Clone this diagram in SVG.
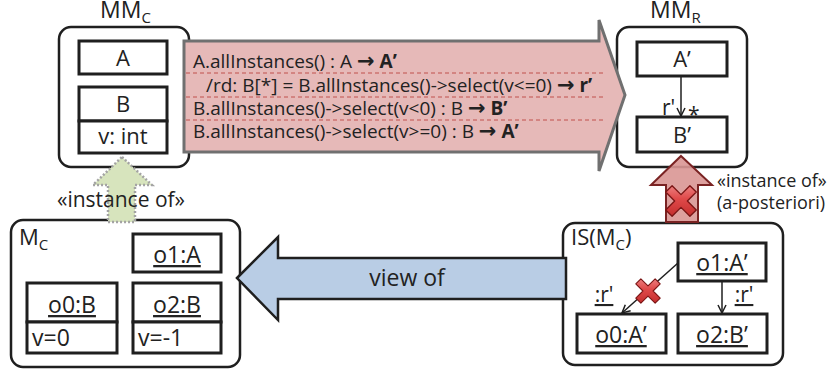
<svg xmlns="http://www.w3.org/2000/svg" width="832" height="372" viewBox="0 0 832 372">
  <defs>
    <style>
      text { font-family: "Open Sans", "Liberation Sans", sans-serif; fill: #222; }
      .frame { fill: #fff; stroke: #1f1f1f; stroke-width: 2.5; }
      .cls { fill: #fff; stroke: #1f1f1f; stroke-width: 3; }
      .title { font-size: 23px; }
      .title2 { font-size: 22px; }
      .sub { font-size: 15px; }
      .lbl { font-size: 22px; text-anchor: middle; }
      .obj { font-size: 23px; text-anchor: middle; text-decoration: underline; }
      .attr { font-size: 23px; }
      .map { font-size: 19px; }
      .note { font-size: 18px; }
      .b { font-weight: bold; }
      .to { font-family: "DejaVu Sans", sans-serif; font-weight: bold; font-size: 21px; }
      .sep { stroke: #c0504d; stroke-width: 1; stroke-dasharray: 4 3; }
      .link { stroke: #1f1f1f; stroke-width: 1.5; fill: none; marker-end: url(#open); }
    </style>
    <marker id="open" viewBox="0 0 10 10" refX="9" refY="5" markerWidth="10" markerHeight="10" markerUnits="userSpaceOnUse" orient="auto">
      <path d="M1,1 L9,5 L1,9" fill="none" stroke="#1f1f1f" stroke-width="1.5"/>
    </marker>
    <linearGradient id="xfill" x1="0" y1="0" x2="1" y2="1">
      <stop offset="0" stop-color="#f5a3a3"/>
      <stop offset="0.45" stop-color="#e04a4a"/>
      <stop offset="1" stop-color="#b51f1f"/>
    </linearGradient>
    <polygon id="cross" transform="rotate(45)" fill="url(#xfill)" stroke="#7a1414" stroke-width="1.5" stroke-linejoin="round"
      points="-5,-19 5,-19 5,-5 19,-5 19,5 5,5 5,19 -5,19 -5,5 -19,5 -19,-5 -5,-5"/>
  </defs>

  <!-- metamodel MM_C -->
  <g id="mm-c">
    <rect class="frame" x="59" y="27" width="130" height="140" rx="12"/>
    <text class="title" x="100" y="18">MM<tspan class="sub" dy="5">C</tspan></text>
    <rect class="cls" x="79" y="41" width="88" height="33"/>
    <text class="lbl" x="123" y="66">A</text>
    <rect class="cls" x="79" y="87" width="88" height="34"/>
    <rect class="cls" x="79" y="121" width="88" height="32"/>
    <text class="lbl" x="123" y="112">B</text>
    <text class="lbl" x="123" y="144">v: int</text>
  </g>

  <!-- metamodel MM_R -->
  <g id="mm-r">
    <rect class="frame" x="617" y="27" width="130" height="140" rx="12"/>
    <text class="title" x="650" y="18">MM<tspan class="sub" dy="5">R</tspan></text>
    <rect class="cls" x="637" y="42" width="90" height="34"/>
    <text class="lbl" x="682" y="67">A’</text>
    <rect class="cls" x="637" y="117" width="90" height="35"/>
    <text class="lbl" x="682" y="143">B’</text>
    <text x="662" y="115" style="font-size:21px">r'</text>
    <text x="688" y="122" style="font-size:21px">*</text>
  </g>

  <!-- model M_C -->
  <g id="m-c">
    <rect class="frame" x="11" y="220" width="229" height="147" rx="12"/>
    <text class="title2" x="19" y="245">M<tspan class="sub" dy="5">C</tspan></text>
    <rect class="cls" x="133" y="234" width="88" height="38"/>
    <text class="obj" x="177" y="263">o1:A</text>
    <rect class="cls" x="27" y="283" width="90" height="39"/>
    <rect class="cls" x="27" y="322" width="90" height="31"/>
    <text class="obj" x="72" y="313">o0:B</text>
    <text class="attr" x="32" y="346">v=0</text>
    <rect class="cls" x="133" y="283" width="88" height="39"/>
    <rect class="cls" x="133" y="322" width="88" height="31"/>
    <text class="obj" x="177" y="313">o2:B</text>
    <text class="attr" x="138" y="346">v=-1</text>
  </g>

  <!-- instance set IS(M_C) -->
  <g id="is-mc">
    <rect class="frame" x="563" y="223" width="220" height="142" rx="12"/>
    <text class="title2" x="571" y="245">IS(M<tspan class="sub" dy="5">C</tspan><tspan dy="-5">)</tspan></text>
    <rect class="cls" x="678" y="243" width="88" height="38"/>
    <text class="obj" x="722" y="271">o1:A’</text>
    <rect class="cls" x="577" y="314" width="89" height="39"/>
    <text class="obj" x="621" y="343">o0:A’</text>
    <rect class="cls" x="678" y="314" width="89" height="39"/>
    <text class="obj" x="722" y="343">o2:B’</text>
  </g>

  <!-- connectors -->
  <g id="connectors">
    <!-- mapping arrow MM_C to MM_R -->
    <g id="mapping">
      <polygon points="184,41 599,41 599,20 625,95 599,171 599,152 184,152" fill="#e6b9b8" stroke="#707070" stroke-width="3" stroke-linejoin="miter"/>
      <line class="sep" x1="186" y1="73" x2="604" y2="73"/>
      <line class="sep" x1="186" y1="97" x2="606" y2="97"/>
      <line class="sep" x1="186" y1="120" x2="604" y2="120"/>
      <text class="map" x="193" y="68">A.allInstances() : A <tspan class="to">→</tspan> <tspan class="b">A’</tspan></text>
      <text class="map" x="206" y="92">/rd: B[*] = B.allInstances()-&gt;select(v&lt;=0) <tspan class="to">→</tspan> <tspan class="b">r’</tspan></text>
      <text class="map" x="193" y="115">B.allInstances()-&gt;select(v&lt;0) : B <tspan class="to">→</tspan> <tspan class="b">B’</tspan></text>
      <text class="map" x="193" y="138">B.allInstances()-&gt;select(v&gt;=0) : B <tspan class="to">→</tspan> <tspan class="b">A’</tspan></text>
    </g>

    <!-- M_C instance of MM_C -->
    <g id="instance-of-c">
      <polygon points="122,157 152,185 135,185 135,222 108,222 108,185 93,185" fill="#d7e4bd" stroke="#a3a3a3" stroke-width="2.5" stroke-dasharray="2 2"/>
      <text class="lbl" x="121" y="207" style="font-size:21px">«instance of»</text>
    </g>

    <!-- IS(M_C) view of M_C -->
    <g id="view-of">
      <polygon points="237,278 278,237 278,258 566,258 566,299 278,299 278,320" fill="#b9cde5" stroke="#1f1f1f" stroke-width="2.5"/>
      <text class="lbl" x="407" y="286" style="font-size:23px">view of</text>
    </g>

    <!-- IS(M_C) instance of MM_R, rejected -->
    <g id="instance-of-r">
      <polygon points="681,156 712,185 698,185 698,222 666,222 666,185 651,185" fill="#d99694" fill-opacity="0.9" stroke="#7a2323" stroke-width="2"/>
      <use href="#cross" transform="translate(681,201) scale(0.9)"/>
      <text class="note" x="717" y="187">«instance of»</text>
      <text class="note" x="717" y="209">(a-posteriori)</text>
    </g>

    <!-- association r' in MM_R -->
    <line class="link" x1="681" y1="76" x2="681" y2="116"/>

    <!-- links in IS(M_C) -->
    <line class="link" x1="722" y1="281" x2="722" y2="313"/>
    <text class="obj" x="744" y="302" style="font-size:21px">:r'</text>
    <line class="link" x1="678" y1="263" x2="622" y2="313"/>
    <text class="obj" x="604" y="302" style="font-size:21px">:r'</text>
    <use href="#cross" transform="translate(648,291) scale(0.72)"/>
  </g>
</svg>
